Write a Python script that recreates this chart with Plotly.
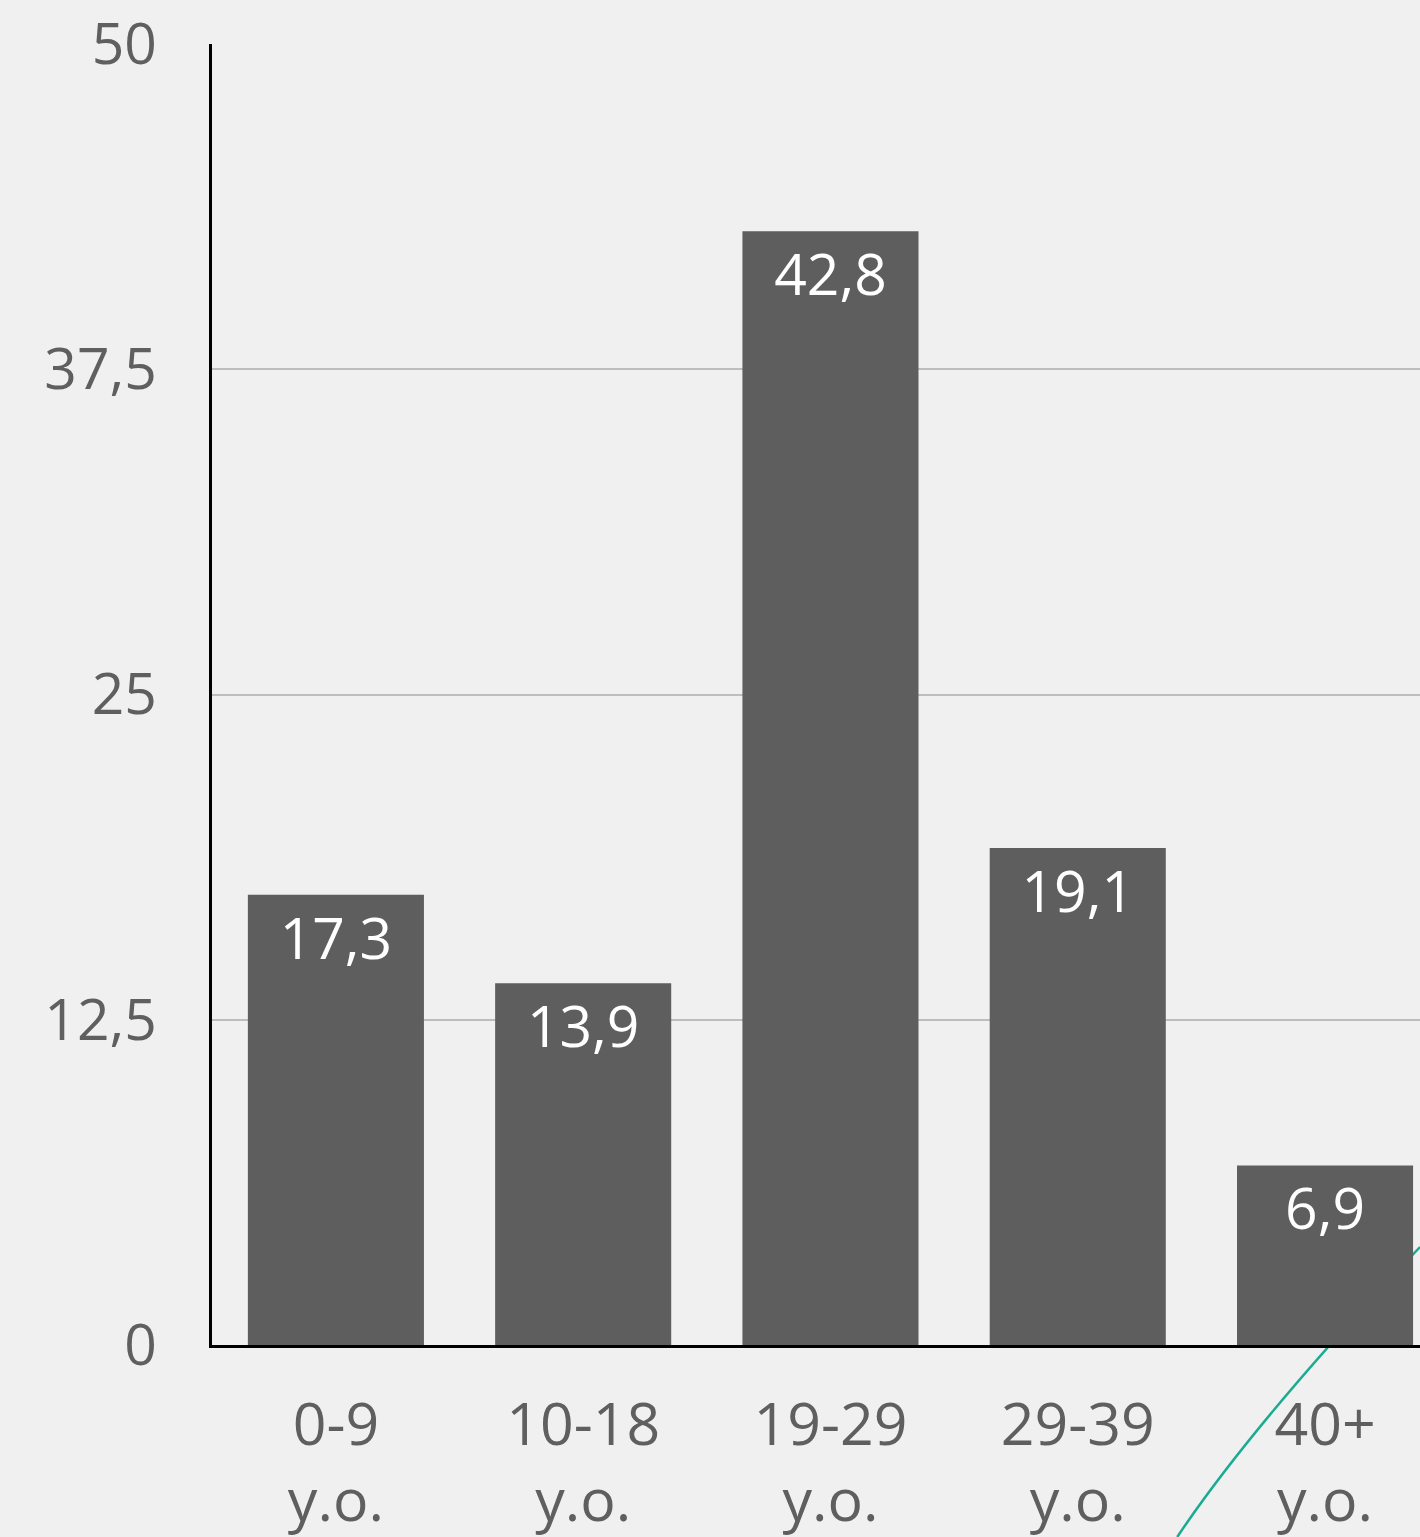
import plotly.graph_objects as go

categories = ["0-9<br>y.o.", "10-18<br>y.o.", "19-29<br>y.o.", "29-39<br>y.o.", "40+<br>y.o."]
values = [17.3, 13.9, 42.8, 19.1, 6.9]
ytick_vals = [0, 12.5, 25, 37.5, 50]
ytick_text = ["0", "12,5", "25", "37,5", "50"]

# decorative teal curve (paper coordinates: start, control, end)
deco_curve = [(0.7990, -0.1476), (0.8627, -0.0592), (1.0, 0.0753)]

labels = [f"{v:.1f}".replace(".", ",") for v in values]

fig = go.Figure()
fig.add_trace(go.Bar(
    x=list(range(len(categories))),
    y=values,
    text=labels,
    textposition="inside",
    insidetextanchor="end",
    textangle=0,
    textfont=dict(family="Open Sans", size=57, color="#ffffff"),
    marker=dict(color="#5e5e5e", line=dict(width=0)),
    hoverinfo="skip",
))

(p0, p1, p2) = deco_curve
fig.add_shape(
    type="path",
    xref="paper", yref="paper",
    path=f"M {p0[0]},{p0[1]} Q {p1[0]},{p1[1]} {p2[0]},{p2[1]}",
    line=dict(color="#1aab92", width=2.5),
    layer="below",
)

fig.update_layout(
    width=1420, height=1537,
    margin=dict(l=212, r=0, t=44, b=192, pad=0),
    paper_bgcolor="#f0f0f0",
    plot_bgcolor="rgba(0,0,0,0)",
    font=dict(family="Open Sans", size=57, color="#5f5f5f"),
    bargap=0.288,
    showlegend=False,
    uniformtext=dict(mode=False),
    xaxis=dict(
        range=[-0.501, 4.384],
        tickmode="array",
        tickvals=list(range(len(categories))),
        ticktext=categories,
        showgrid=False,
        zeroline=False,
        showline=True,
        linecolor="#000000",
        linewidth=2.5,
        ticks="",
        tickfont=dict(size=59, color="#5f5f5f"),
        ticklabelstandoff=26,
    ),
    yaxis=dict(
        range=[0, 50],
        tickmode="array",
        tickvals=ytick_vals,
        ticktext=ytick_text,
        showgrid=True,
        gridcolor="#bdbdbd",
        gridwidth=2,
        zeroline=False,
        showline=True,
        linecolor="#000000",
        linewidth=2.5,
        ticks="",
        tickfont=dict(size=57, color="#5f5f5f"),
        ticklabelstandoff=41,
    ),
)

fig.write_html("out.html")
